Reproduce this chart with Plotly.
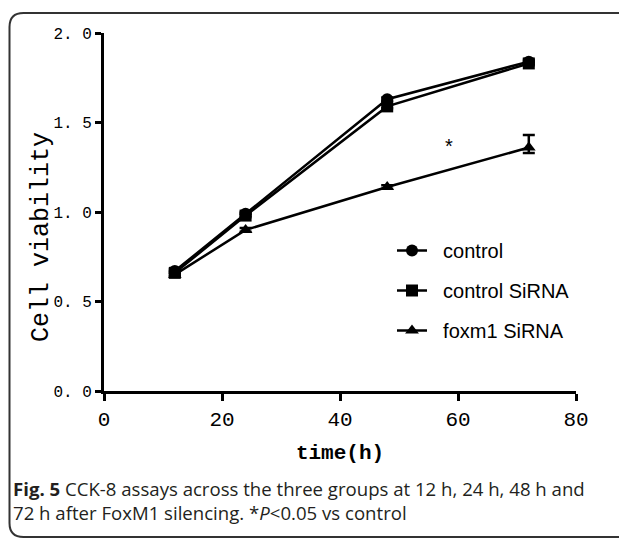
import plotly.graph_objects as go

# ---- data ----
time_h = [12, 24, 48, 72]
control = [0.67, 0.99, 1.63, 1.84]
control_err = [0.01, 0.01, 0.01, 0.01]
control_sirna = [0.66, 0.98, 1.59, 1.83]
control_sirna_err = [0.01, 0.01, 0.01, 0.01]
foxm1_sirna = [0.65, 0.90, 1.14, 1.36]
foxm1_sirna_err_up = [0.01, 0.01, 0.01, 0.07]
foxm1_sirna_err_down = [0.01, 0.01, 0.01, 0.03]
series_names = ["control", "control SiRNA", "foxm1 SiRNA"]
y_tickvals = [0.0, 0.5, 1.0, 1.5, 2.0]
y_ticktext = ["0. 0", "0. 5", "1. 0", "1. 5", "2. 0"]
x_tickvals = [0, 20, 40, 60, 80]

OFF = 8  # browser body margin
W, H = 627 - OFF, 540 - OFF
# plot area in screen pixels: x 104..576, y 33..391
L = 104 - OFF
T = 33 - OFF
R = W - (576 - OFF)
B = H - (391 - OFF)
PW, PH = W - L - R, H - T - B

AXFONT = "Liberation Mono"

fig = go.Figure()
symbols = ["circle", "square", "triangle-up"]
ys = [control, control_sirna, foxm1_sirna]
errs_up = [control_err, control_sirna_err, foxm1_sirna_err_up]
errs_dn = [control_err, control_sirna_err, foxm1_sirna_err_down]
for i, (name, y, eu, ed, s) in enumerate(zip(series_names, ys, errs_up, errs_dn, symbols)):
    fig.add_trace(go.Scatter(
        x=time_h, y=y, name="\u00a0\u00a0" + name, mode="lines+markers",
        line=dict(color="black", width=2.5),
        marker=dict(symbol=s, size=12, color="black"),
        error_y=dict(type="data", array=eu, arrayminus=ed, symmetric=False,
                     visible=True, color="black", thickness=2.5, width=6),
        legendgroup=f"g{i}",
    ))

fig.add_annotation(x=58.5, y=1.37, text="*", showarrow=False,
                   font=dict(family="Liberation Sans", size=20, color="black"))


def px2paper(px, py):
    """screen pixel -> paper coords"""
    px -= OFF
    py -= OFF
    return (px - L) / PW, (H - B - py) / PH


def P(px, py):
    a, b = px2paper(px, py)
    return f"{a:.5f},{b:.5f}"


# rounded frame
x0, y0 = 9.5, 13
x1, y1 = 625.5, 537
r = 14
path = (f"M {P(x0 + r, y0)} L {P(x1, y0)} L {P(x1, y1)} L {P(x0 + r, y1)} "
        f"Q {P(x0, y1)} {P(x0, y1 - r)} L {P(x0, y0 + r)} Q {P(x0, y0)} {P(x0 + r, y0)} Z")
fig.add_shape(type="path", path=path, xref="paper", yref="paper",
              line=dict(color="#333333", width=2))

# y-axis title as rotated annotation
tx, ty = px2paper(42, 237)
fig.add_annotation(x=tx, y=ty, xref="paper", yref="paper", text="Cell viability",
                   textangle=-90, showarrow=False, xanchor="center", yanchor="middle",
                   font=dict(family=AXFONT, size=25, color="black"))

cx, cy1 = px2paper(11, 488)
_, cy2 = px2paper(11, 513)
capfont = dict(family="Open Sans", size=18.6, color="#231f20")
fig.add_annotation(x=cx, y=cy1, xref="paper", yref="paper", xanchor="left",
                   yanchor="middle", showarrow=False, font=capfont,
                   text="<b>Fig. 5</b> CCK-8 assays across the three groups at 12 h, 24 h, 48 h and")
fig.add_annotation(x=cx, y=cy2, xref="paper", yref="paper", xanchor="left",
                   yanchor="middle", showarrow=False, font=capfont,
                   text="72 h after FoxM1 silencing. *<i>P</i>&lt;0.05 vs control")

lx, ly = px2paper(392, 231)
fig.update_layout(
    width=W, height=H,
    margin=dict(l=L, r=R, t=T, b=B, autoexpand=False),
    paper_bgcolor="white", plot_bgcolor="white",
    showlegend=True,
    legend=dict(x=lx, y=ly, xanchor="left", yanchor="top",
                font=dict(family="Liberation Sans", size=20, color="black"),
                bgcolor="rgba(0,0,0,0)", tracegroupgap=11, traceorder="grouped"),
    xaxis=dict(range=[0, 80], tickvals=x_tickvals, showline=True, linecolor="black",
               linewidth=3, ticks="outside", ticklen=7, tickwidth=3, tickcolor="black",
               showgrid=False, zeroline=False,
               tickfont=dict(family=AXFONT, size=21, color="black"),
               title=dict(text="<b>time(h)</b>", standoff=14,
                          font=dict(family=AXFONT, size=21, color="black"))),
    yaxis=dict(range=[0, 2.0], tickvals=y_tickvals, ticktext=y_ticktext,
               showline=True, linecolor="black", linewidth=3, ticks="outside",
               ticklen=6, tickwidth=3, tickcolor="black", showgrid=False,
               zeroline=False,
               tickfont=dict(family=AXFONT, size=16, color="black")),
)

fig.write_html("out.html")
